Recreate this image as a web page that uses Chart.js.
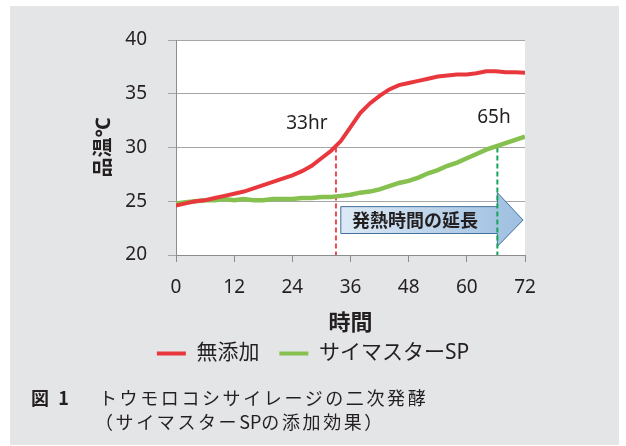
<!DOCTYPE html>
<html lang="ja">
<head>
<meta charset="utf-8">
<script src="https://cdn.jsdelivr.net/npm/chart.js@4.4.0/dist/chart.umd.min.js"></script>
<style>
  body { margin: 0; width: 626px; height: 446px; position: relative; background: #fff; overflow: hidden; }
  #panel { position: absolute; left: 10px; top: 6px; width: 609px; height: 439px; background: #e4e5e7; }
  #chart { position: absolute; left: 0; top: 0; }
  .cap { position: absolute; font-family: "Noto Sans CJK JP", "Noto Sans", sans-serif; font-size: 18px; color: #231f20; letter-spacing: 2.6px; white-space: nowrap; line-height: 1; }
  .cap span { letter-spacing: 0; }
</style>
</head>
<body>
<div id="panel"></div>
<canvas id="chart" width="626" height="446"></canvas>
<div class="cap" style="left:31px; top:388px; font-weight:bold;">図 1</div>
<div class="cap" style="left:99px; top:388px;">トウモロコシサイレージの二次発酵</div>
<div class="cap" style="left:95px; top:412px;">（サイマスター<span>SP</span>の添加効果）</div>
<script>
// hours after opening
const hours = [0, 2, 4, 6, 8, 10, 12, 14, 16, 18, 20, 22, 24, 26, 28, 30, 32, 34, 36,
  38, 40, 42, 44, 46, 48, 50, 52, 54, 56, 58, 60, 62, 64, 66, 68, 70, 72];

// 無添加
const plainTemp = [24.6, 24.8, 25.0, 25.1, 25.3, 25.5, 25.7, 25.9, 26.2, 26.5, 26.8, 27.1, 27.4,
  27.8, 28.3, 29.0, 29.7, 30.6, 31.9, 33.2, 34.1, 34.8, 35.4, 35.8, 36.0, 36.2, 36.4, 36.6,
  36.7, 36.8, 36.8, 36.9, 37.1, 37.1, 37.0, 37.0, 36.95];

// サイマスターSP
const spTemp = [24.8, 24.9, 25.0, 25.1, 25.1, 25.2, 25.1, 25.2, 25.1, 25.1, 25.2, 25.2, 25.2,
  25.3, 25.3, 25.4, 25.4, 25.5, 25.6, 25.8, 25.9, 26.1, 26.4, 26.7, 26.9, 27.2, 27.6, 27.9,
  28.3, 28.6, 29.0, 29.4, 29.8, 30.1, 30.4, 30.7, 31.0];

const seriesNames = ['無添加', 'サイマスターSP'];
const xTicks = [0, 12, 24, 36, 48, 60, 72];

// markers where each line crosses 30°C
const plainMark = [{ x: 33, y: 30 }, { x: 33, y: 20 }];
const spMark = [{ x: 66.3, y: 30 }, { x: 66.3, y: 20 }];

const redColor = '#e8383d';
const greenColor = '#86c04f';
const fontFam = '"Noto Sans", "Noto Sans CJK JP", sans-serif';
const textColor = '#231f20';

function toPoints(ys) {
  return hours.map((h, i) => ({ x: h, y: ys[i] }));
}

// white plot background
const plotBg = {
  id: 'plotBg',
  beforeDraw(chart) {
    const { ctx, chartArea: a } = chart;
    ctx.save();
    ctx.fillStyle = '#ffffff';
    ctx.fillRect(a.left, a.top, a.right - a.left, a.bottom - a.top);
    ctx.restore();
  }
};

// arrow "発熱時間の延長"
const arrowPlugin = {
  id: 'arrowPlugin',
  beforeDatasetsDraw(chart) {
    const { ctx, scales: { x, y } } = chart;
    const x0 = x.getPixelForValue(34);
    const x1 = x.getPixelForValue(66.3);
    const x2 = x.getPixelForValue(71.6);
    const yt = y.getPixelForValue(24.5);
    const yb = y.getPixelForValue(22.0);
    const ht = y.getPixelForValue(25.8);
    const hb = y.getPixelForValue(20.8);
    const ym = (yt + yb) / 2;
    ctx.save();
    const g = ctx.createLinearGradient(x0, 0, x2, 0);
    g.addColorStop(0, '#dde9f5');
    g.addColorStop(1, '#9dbfe0');
    ctx.beginPath();
    ctx.moveTo(x0, yt);
    ctx.lineTo(x1, yt);
    ctx.lineTo(x1, ht);
    ctx.lineTo(x2, ym);
    ctx.lineTo(x1, hb);
    ctx.lineTo(x1, yb);
    ctx.lineTo(x0, yb);
    ctx.closePath();
    ctx.fillStyle = g;
    ctx.fill();
    ctx.strokeStyle = '#41719c';
    ctx.lineWidth = 1;
    ctx.stroke();
    ctx.fillStyle = textColor;
    ctx.font = 'bold 18px "Noto Sans CJK JP", sans-serif';
    ctx.textAlign = 'center';
    ctx.textBaseline = 'middle';
    ctx.fillText('発熱時間の延長', x.getPixelForValue(49.3), ym);
    ctx.restore();
  }
};

// "33hr" / "65h" labels
const noteLabels = {
  id: 'noteLabels',
  afterDatasetsDraw(chart) {
    const { ctx, scales: { x, y } } = chart;
    ctx.save();
    ctx.fillStyle = textColor;
    ctx.font = '19px ' + fontFam;
    ctx.textAlign = 'center';
    ctx.textBaseline = 'middle';
    ctx.fillText('33hr', x.getPixelForValue(27), y.getPixelForValue(32.2));
    ctx.fillText('65h', x.getPixelForValue(65.6), y.getPixelForValue(32.8));
    ctx.restore();
  }
};

new Chart(document.getElementById('chart'), {
  type: 'line',
  data: {
    datasets: [
      { label: seriesNames[0], data: toPoints(plainTemp), borderColor: redColor, backgroundColor: redColor, borderWidth: 4, pointRadius: 0, tension: 0 },
      { label: seriesNames[1], data: toPoints(spTemp), borderColor: greenColor, backgroundColor: greenColor, borderWidth: 4.5, pointRadius: 0, tension: 0 },
      { label: 'm1', data: plainMark, borderColor: '#ee4a50', borderWidth: 2, borderDash: [5, 3], pointRadius: 0 },
      { label: 'm2', data: spMark, borderColor: '#13a558', borderWidth: 2, borderDash: [5, 3], pointRadius: 0 }
    ]
  },
  options: {
    responsive: false,
    animation: false,
    layout: { padding: { left: 0, right: 0, top: 40, bottom: 72 } },
    plugins: {
      legend: {
        position: 'bottom',
        labels: {
          generateLabels: chart => Chart.defaults.plugins.legend.labels.generateLabels(chart)
            .filter(item => item.datasetIndex < 2)
            .map(item => ({ ...item, lineWidth: 0 })),
          boxWidth: 29,
          boxHeight: 4,
          padding: 20,
          color: textColor,
          font: { family: fontFam, size: 21 }
        }
      },
      tooltip: { enabled: false }
    },
    scales: {
      x: {
        type: 'linear',
        min: 0,
        max: 72,
        afterBuildTicks: s => { s.ticks = xTicks.map(v => ({ value: v })); },
        afterFit: s => { s.height = 68; },
        ticks: { color: textColor, padding: 14, font: { family: fontFam, size: 19 }, maxRotation: 0 },
        grid: { drawOnChartArea: false, drawTicks: true, tickLength: 7, color: '#8c8c8c' },
        border: { color: '#8c8c8c' },
        title: { display: true, text: '時間', color: textColor, padding: { top: 0, bottom: -14 }, font: { family: fontFam, size: 22, weight: 'bold' } }
      },
      y: {
        min: 20,
        max: 40,
        ticks: { stepSize: 5, color: textColor, padding: 21, font: { family: fontFam, size: 19 } },
        afterFit: s => { s.width = 176; },
        grid: { color: '#a6a6a6', tickLength: 8 },
        border: { color: '#8c8c8c' },
        title: { display: true, text: '品温℃', color: textColor, padding: { top: 92, bottom: 0 }, font: { family: fontFam, size: 20, weight: 'bold' } }
      },
      // empty right-hand gutter so the legend centres on the whole figure
      gutter: {
        position: 'right',
        min: 20,
        max: 40,
        afterFit: s => { s.width = 101; },
        ticks: { display: false },
        grid: { display: false },
        border: { display: false }
      }
    }
  },
  plugins: [plotBg, arrowPlugin, noteLabels]
});
</script>
</body>
</html>
